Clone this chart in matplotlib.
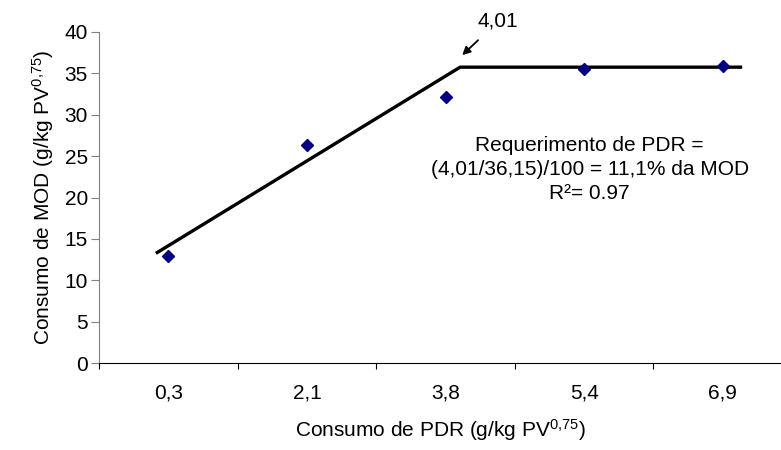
import matplotlib
matplotlib.use("Agg")
import matplotlib.pyplot as plt
import numpy as np

plt.rcParams['font.family'] = ['Liberation Sans', 'DejaVu Sans']
plt.rcParams['mathtext.fontset'] = 'custom'
plt.rcParams['mathtext.rm'] = 'Liberation Sans'
plt.rcParams['mathtext.default'] = 'regular'

# dados (eixo x em categorias)
categorias = ["0,3", "2,1", "3,8", "5,4", "6,9"]
consumo_mod = [12.9, 26.4, 32.2, 35.5, 35.9]

# modelo broken-line (posicoes em unidades de categoria)
linha_x = [0.91, 3.105, 5.14]
linha_y = [13.25, 35.75, 35.75]

pos = np.arange(1, len(categorias) + 1)
fs = 15

fig = plt.figure(figsize=(7.81, 4.5), dpi=100)
ax = fig.add_axes([0.1268, 0.1933, 0.8732, 0.7356])

ax.plot(linha_x, linha_y, color='black', lw=2.4, solid_capstyle='butt', zorder=2)
ax.plot(pos, consumo_mod, linestyle='none', marker='D', markersize=6,
        color='#000080', zorder=3)

ax.set_xlim(0.5, 5.42)
ax.set_ylim(0, 40)
ax.set_yticks(np.arange(0, 41, 5))
ax.tick_params(axis='y', direction='out', length=6, width=0.8, pad=2,
               labelsize=fs, color='#808080')

ax.set_xticks(pos)
ax.set_xticklabels(categorias)
ax.set_xticks(np.arange(0.5, 5.0, 1.0), minor=True)
ax.tick_params(axis='x', which='major', length=0, pad=15, labelsize=fs)
ax.tick_params(axis='x', which='minor', direction='out', length=4.5, width=0.8)

for s in ['top', 'right']:
    ax.spines[s].set_visible(False)
ax.spines['left'].set_color('#808080')
ax.spines['bottom'].set_color('black')

ax.set_ylabel("Consumo de MOD (g/kg PV$^{0{,}75}$)", fontsize=fs, labelpad=6)
ax.set_xlabel("Consumo de PDR (g/kg PV$^{0{,}75}$)", fontsize=fs, labelpad=10)

ax.annotate("4,01", xy=(3.12, 37.2), xytext=(3.38, 41.3),
            ha='center', va='center', fontsize=fs, annotation_clip=False,
            arrowprops=dict(arrowstyle='-|>', color='black', lw=1.3,
                            mutation_scale=12, shrinkA=7, shrinkB=0))

ax.text(4.04, 23.4, "Requerimento de PDR =\n(4,01/36,15)/100 = 11,1% da MOD\nR²= 0.97",
        ha='center', va='center', fontsize=fs, linespacing=1.35)

fig.savefig("out.png", dpi=100)
